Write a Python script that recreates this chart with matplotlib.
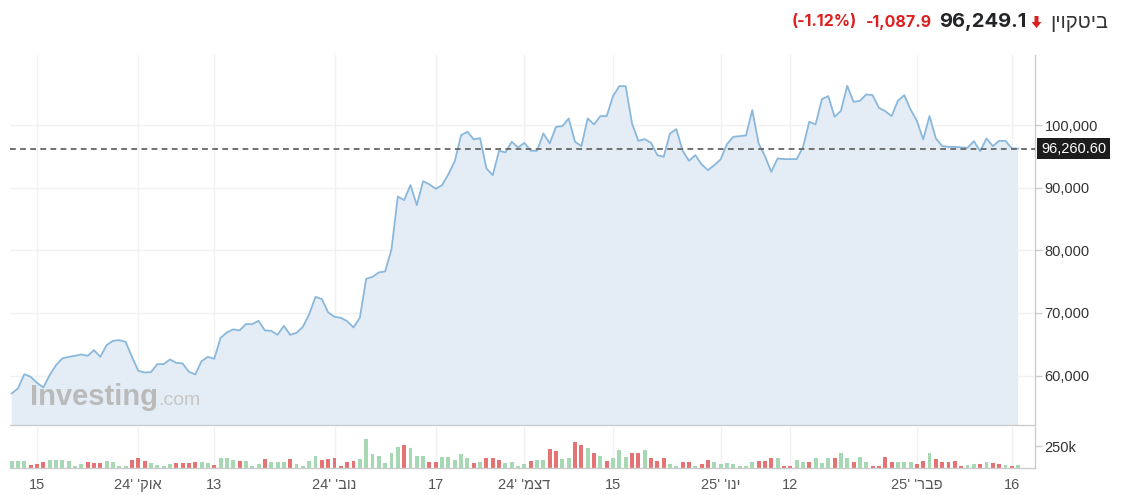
import matplotlib
matplotlib.use('Agg')
import matplotlib.pyplot as plt
import matplotlib.dates as mdates
import matplotlib.transforms as mtransforms
import numpy as np
import pandas as pd
from matplotlib.patches import Polygon

# ---------------- data ----------------
start_date = '2024-09-11'
prices = [
    57140, 57940, 60220, 59800, 58840, 58100, 60060, 61660, 62730, 62990,
    63150, 63370, 63150, 64060, 62990, 64860, 65550, 65650, 65390, 62990,
    60760, 60490, 60540, 61820, 61820, 62570, 62030, 61930, 60600, 60180,
    62300, 62990, 62670, 66020, 66890, 67370, 67210, 68210, 68210, 68740,
    67210, 67140, 66500, 67940, 66500, 66820, 67780, 69810, 72570, 72210,
    70080, 69380, 69220, 68690, 67680, 69220, 75450, 75770, 76470, 76630,
    80140, 88600, 88020, 90420, 87220, 91050, 90530, 89830, 90420, 92170,
    94250, 98400, 98930, 97720, 97920, 93080, 92010, 95900, 95640, 97330,
    96440, 97170, 95900, 95900, 98670, 97080, 99730, 99840, 101070, 97330,
    96650, 101070, 100110, 101440, 101440, 104630, 106230, 106230, 100270, 97490,
    97760, 97170, 95210, 94940, 98670, 99360, 95900, 94300, 95210, 93720,
    92810, 93610, 94520, 96960, 98130, 98240, 98350, 102400, 97080, 95050,
    92540, 94680, 94570, 94570, 94570, 96440, 100530, 100110, 104150, 104630,
    101330, 102280, 106280, 103720, 103880, 104900, 104790, 102760, 102240, 101440,
    103880, 104790, 102510, 100690, 97720, 101440, 97880, 96650, 96530, 96530,
    96440, 96370, 97440, 95850, 97880, 96650, 97490, 97490, 96280, 96260,
]
# volume in thousands
volumes_k = [
    81, 81, 81, 32, 41, 69, 93, 93, 93, 81,
    28, 41, 69, 61, 53, 81, 69, 28, 28, 93,
    114, 81, 61, 37, 28, 41, 61, 61, 61, 69,
    69, 53, 37, 114, 110, 89, 81, 81, 28, 41,
    101, 69, 69, 69, 101, 41, 28, 81, 142, 93,
    101, 114, 20, 69, 81, 101, 325, 154, 142, 53,
    175, 235, 264, 231, 142, 134, 69, 69, 130, 130,
    93, 154, 110, 53, 69, 110, 114, 93, 61, 69,
    20, 41, 81, 93, 93, 215, 195, 101, 110, 296,
    256, 223, 175, 142, 81, 114, 203, 130, 170, 170,
    203, 114, 81, 114, 49, 20, 69, 69, 28, 41,
    93, 69, 41, 53, 41, 20, 28, 69, 81, 81,
    110, 110, 28, 28, 93, 73, 69, 110, 61, 110,
    114, 170, 114, 69, 130, 69, 28, 20, 130, 69,
    69, 69, 69, 41, 81, 170, 101, 69, 69, 81,
    28, 32, 49, 49, 69, 53, 49, 32, 20, 32,
]
vol_up = [
    1, 1, 1, 0, 0, 0, 1, 1, 1, 1,
    1, 1, 0, 0, 0, 1, 1, 1, 1, 0,
    0, 0, 1, 1, 1, 1, 0, 0, 0, 0,
    1, 1, 0, 1, 1, 1, 0, 1, 1, 1,
    0, 1, 1, 1, 0, 1, 1, 1, 1, 0,
    0, 0, 0, 0, 0, 1, 1, 1, 1, 1,
    1, 1, 0, 1, 1, 1, 0, 0, 1, 1,
    1, 1, 1, 0, 1, 0, 0, 0, 1, 1,
    1, 1, 0, 1, 1, 0, 0, 1, 1, 0,
    0, 1, 0, 1, 0, 1, 1, 1, 0, 0,
    1, 0, 0, 0, 1, 1, 0, 0, 1, 0,
    0, 1, 1, 1, 1, 1, 1, 1, 0, 0,
    0, 1, 0, 0, 1, 1, 0, 1, 1, 1,
    0, 1, 1, 0, 1, 1, 0, 0, 0, 0,
    1, 1, 1, 0, 0, 1, 0, 0, 0, 0,
    0, 1, 1, 0, 1, 0, 0, 1, 0, 1,
]
last_price = 96260.60
tick_dates = ['2024-09-15', '2024-10-01', '2024-10-13', '2024-11-01', '2024-11-17',
              '2024-12-01', '2024-12-15', '2025-01-01', '2025-01-12', '2025-02-01',
              '2025-02-16']
# Hebrew labels written in visual (left-to-right) order
tick_labels = ['15', "24' 'קוא", '13', "24' 'בונ", '17', "24' 'מצד", '15',
               "25' 'וני", '12', "25' 'רבפ", '16']
price_ticks = [60000, 70000, 80000, 90000, 100000]
vol_ticks = [250]
title_name = 'ןיוקטיב'        # ביטקוין in visual order
title_price = '96,249.1'
title_change = '-1,087.9'
title_pct = '(-1.12%)'

# ---------------- figure ----------------
W, H = 1121, 495
fig = plt.figure(figsize=(W / 100, H / 100), dpi=100)
fig.patch.set_facecolor('white')

def px_box(l, t, r, b):
    return [l / W, 1 - b / H, (r - l) / W, (b - t) / H]

ax = fig.add_axes(px_box(10, 55, 1035, 425))
axv = fig.add_axes(px_box(10, 427, 1035, 468), sharex=ax)

dates = pd.date_range(start_date, periods=len(prices), freq='D')
x = mdates.date2num(dates.to_pydatetime())
tx = mdates.date2num(pd.to_datetime(tick_dates).to_pydatetime())

line_c = '#8ab8dc'
fill_c = '#e4edf5'
grid_c = '#f1f1f1'
spine_c = '#cccccc'

ax.fill_between(x, prices, 0, color=fill_c, lw=0, zorder=1)
ax.plot(x, prices, color=line_c, lw=1.3, zorder=3)
ax.axhline(last_price, color='#666666', lw=1.3, ls=(0, (3.2, 2.4)), zorder=4)

x0 = tx[0] - 27 / 6.33
x1 = tx[0] + 998 / 6.33
ax.set_xlim(x0, x1)
ax.set_ylim(52100, 111200)

for a in (ax, axv):
    a.set_facecolor('white')
    for s in ('top', 'left'):
        a.spines[s].set_visible(False)
    a.spines['right'].set_color(spine_c)
    a.spines['bottom'].set_color(spine_c)
    a.spines['right'].set_linewidth(1)
    a.spines['bottom'].set_linewidth(1)
    a.set_xticks(tx)
    a.grid(True, axis='x', color=grid_c, lw=1, zorder=0)
    a.set_axisbelow(True)

ax.yaxis.tick_right()
ax.set_yticks(price_ticks)
ax.set_yticklabels([f'{v:,}' for v in price_ticks])
ax.grid(True, axis='y', color=grid_c, lw=1, zorder=0)
ax.tick_params(axis='y', length=5, width=1, color=spine_c, pad=2,
               labelsize=10.5, labelcolor='#333333')
ax.tick_params(axis='x', length=0, labelbottom=False)
for lab in ax.get_yticklabels():
    lab.set_family('Liberation Sans')

# last price tag
tag_tr = ax.get_yaxis_transform() + mtransforms.ScaledTranslation(6 / 100, 0, fig.dpi_scale_trans)
ax.text(1.0, last_price, f'{last_price:,.2f}', transform=tag_tr,
        ha='left', va='center', fontsize=10.5, color='white', family='Liberation Sans',
        bbox=dict(boxstyle='square,pad=0.25', fc='#1c1c1c', ec='none'), zorder=10,
        clip_on=False)

# volume
colors = ['#a6d9b3' if u else '#e57373' for u in vol_up]
axv.bar(x, volumes_k, width=0.62, color=colors, lw=0, zorder=2)
axv.set_ylim(0, 466)
axv.yaxis.tick_right()
axv.set_yticks(vol_ticks)
axv.set_yticklabels([f'{v}k' for v in vol_ticks])
axv.tick_params(axis='y', length=5, width=1, color=spine_c, pad=2,
                labelsize=10.5, labelcolor='#333333')
axv.set_xticklabels(tick_labels)
axv.tick_params(axis='x', length=0, pad=7, labelsize=10.5, labelcolor='#555555')
for lab in axv.get_xticklabels() + axv.get_yticklabels():
    lab.set_family(['Liberation Sans', 'DejaVu Sans'])

# watermark (display pixel coordinates, origin bottom-left)
fig.text(30 / W, 1 - 405 / H, 'Investing', fontsize=21, fontweight='bold',
         color='#bababa', family='Liberation Sans', ha='left', va='baseline', zorder=2)
fig.text(158 / W, 1 - 405 / H, '.com', fontsize=14, color='#c6c6c6',
         family='Liberation Sans', ha='left', va='baseline', zorder=2)

# header
def fx(px):
    return px / W

def fy(py):
    return 1 - py / H

fig.text(fx(1108), fy(22), title_name, ha='right', va='center', fontsize=14.5,
         color='#333333', family=['Liberation Sans', 'DejaVu Sans'])
fig.text(fx(1027), fy(22), title_price, ha='right', va='center', fontsize=14.5,
         fontweight='bold', color='#232526', family='Inter')
fig.text(fx(932), fy(22), title_change, ha='right', va='center', fontsize=11.5,
         fontweight='bold', color='#dc1f1f', family='Inter')
fig.text(fx(857), fy(22), title_pct, ha='right', va='center', fontsize=11.5,
         fontweight='bold', color='#dc1f1f', family='Inter')
# down arrow icon
cx, top, bot = 1036.5, 16, 28
arrow_px = [(cx - 2, top), (cx + 2, top), (cx + 2, top + 6), (cx + 5, top + 6),
            (cx, bot), (cx - 5, top + 6), (cx - 2, top + 6)]
fig.add_artist(Polygon([(fx(a), fy(b)) for a, b in arrow_px], closed=True,
                       transform=fig.transFigure, fc='#dc1f1f', ec='none'))

fig.savefig('out.png', dpi=100, facecolor='white')
